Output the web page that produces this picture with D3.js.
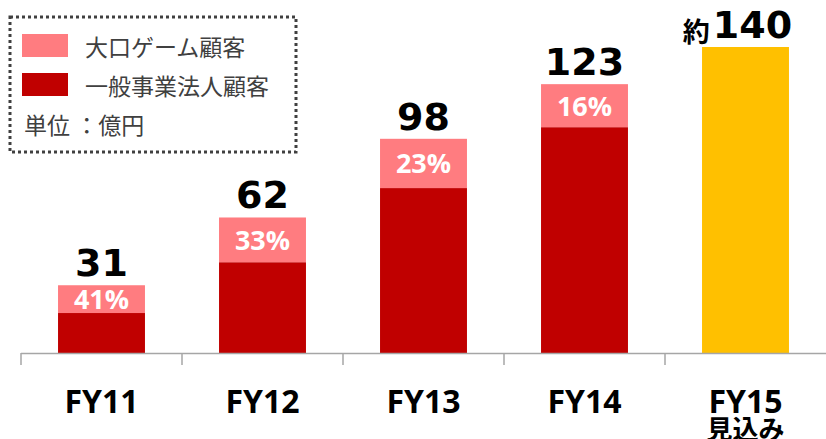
<!DOCTYPE html>
<html>
<head>
<meta charset="utf-8">
<script src="https://cdn.jsdelivr.net/npm/d3@7"></script>
<style>
  body { margin: 0; background: #fff; }
  svg { display: block; }
</style>
</head>
<body>
<svg id="chart" width="826" height="439"></svg>
<script>
// data
var years = ["FY11", "FY12", "FY13", "FY14", "FY15"];
var totals = [31, 62, 98, 123, 140];
var gameShare = [0.41, 0.33, 0.23, 0.16, null]; // FY15 is a forecast, no split
var totalLabels = ["31", "62", "98", "123", "140"];
var shareLabels = ["41%", "33%", "23%", "16%", ""];
var seriesNames = ["大口ゲーム顧客", "一般事業法人顧客"];
var colors = {game: "#FF7C80", corp: "#C00000", forecast: "#FFC000"};

var svg = d3.select("#chart");
var baseY = 353;

var x = d3.scaleBand()
	.domain(years)
	.range([21, 826])
	.paddingInner(0.46)
	.paddingOuter(0.23);

var y = d3.scaleLinear()
	.domain([0, 140])
	.range([baseY, 47]);

var rows = years.map((yr, i) => {
	let total = totals[i];
	let share = gameShare[i];
	let game = share == null ? 0 : total * share;
	return {year: yr, total: total, game: game, corp: total - game,
	        forecast: share == null, tl: totalLabels[i], sl: shareLabels[i]};
});

// bars
var bars = svg.append("g").selectAll("g")
	.data(rows)
	.enter()
	.append("g");

bars.append("rect")
	.attr("x", d => x(d.year))
	.attr("width", x.bandwidth())
	.attr("y", d => y(d.forecast ? d.total : d.corp))
	.attr("height", d => baseY - y(d.forecast ? d.total : d.corp))
	.attr("fill", d => d.forecast ? colors.forecast : colors.corp);

bars.filter(d => !d.forecast)
	.append("rect")
	.attr("x", d => x(d.year))
	.attr("width", x.bandwidth())
	.attr("y", d => y(d.total))
	.attr("height", d => y(d.corp) - y(d.total))
	.attr("fill", colors.game);

// share labels inside pink part
bars.filter(d => !d.forecast)
	.append("text")
	.attr("x", d => x(d.year) + x.bandwidth() / 2)
	.attr("y", d => (y(d.total) + y(d.corp)) / 2 + 10)
	.attr("text-anchor", "middle")
	.style("font-family", "'Open Sans', sans-serif")
	.style("font-weight", "bold")
	.style("font-size", "27px")
	.attr("fill", "#fff")
	.text(d => d.sl);

// totals on top
var tot = bars.append("text")
	.attr("x", d => x(d.year) + x.bandwidth() / 2 + (d.forecast ? -8 : 0))
	.attr("y", d => y(d.total) - 9)
	.attr("text-anchor", "middle")
	.style("font-family", "'DejaVu Sans', sans-serif")
	.style("font-weight", "bold")
	.style("font-size", "38px")
	.attr("fill", "#000");
tot.filter(d => d.forecast)
	.append("tspan")
	.style("font-family", "'Noto Sans CJK JP', sans-serif")
	.style("font-size", "27px")
	.attr("dy", 4)
	.text("約");
tot.append("tspan")
	.attr("dy", d => d.forecast ? -4 : 0)
	.attr("dx", d => d.forecast ? 3 : 0)
	.text(d => d.tl);

// axis: baseline plus ticks at band boundaries
var axis = svg.append("g");
axis.append("line")
	.attr("x1", x.range()[0]).attr("x2", x.range()[1])
	.attr("y1", baseY + 0.5).attr("y2", baseY + 0.5)
	.attr("stroke", "#A6A6A6")
	.attr("stroke-width", 1.5);
axis.selectAll(".tick")
	.data(years)
	.enter()
	.append("line")
	.attr("x1", d => x(d) - (x.step() - x.bandwidth()) / 2)
	.attr("x2", d => x(d) - (x.step() - x.bandwidth()) / 2)
	.attr("y1", baseY)
	.attr("y2", baseY + 12)
	.attr("stroke", "#A6A6A6")
	.attr("stroke-width", 1.5);

axis.selectAll(".lbl")
	.data(years)
	.enter()
	.append("text")
	.attr("x", d => x(d) + x.bandwidth() / 2)
	.attr("y", 413)
	.attr("text-anchor", "middle")
	.style("font-family", "'Open Sans', sans-serif")
	.style("font-weight", "bold")
	.style("font-size", "32px")
	.attr("fill", "#000")
	.text(d => d);

axis.append("text")
	.attr("x", x("FY15") + x.bandwidth() / 2)
	.attr("y", 439)
	.attr("text-anchor", "middle")
	.style("font-family", "'Noto Sans CJK JP', sans-serif")
	.style("font-weight", "bold")
	.style("font-size", "26px")
	.attr("fill", "#000")
	.text("見込み");

// legend box
var lg = svg.append("g");
lg.append("rect")
	.attr("x", 10).attr("y", 17)
	.attr("width", 286).attr("height", 135)
	.attr("fill", "none")
	.attr("stroke", "#404040")
	.attr("stroke-width", 3)
	.attr("stroke-dasharray", "3,3");

var legendColors = [colors.game, colors.corp];
seriesNames.forEach((name, i) => {
	lg.append("rect")
		.attr("x", 22).attr("y", 34 + i * 39)
		.attr("width", 46).attr("height", 23)
		.attr("fill", legendColors[i]);
	lg.append("text")
		.attr("x", 85).attr("y", 46 + i * 39)
		.attr("dominant-baseline", "central")
		.style("font-family", "'Noto Sans CJK JP', sans-serif")
		.style("font-size", "23px")
		.attr("fill", "#404040")
		.text(name);
});
lg.append("text")
	.attr("x", 24).attr("y", 124)
	.attr("dominant-baseline", "central")
	.style("font-family", "'Noto Sans CJK JP', sans-serif")
	.style("font-size", "23px")
	.attr("fill", "#404040")
	.text("単位 ：億円");
</script>
</body>
</html>
